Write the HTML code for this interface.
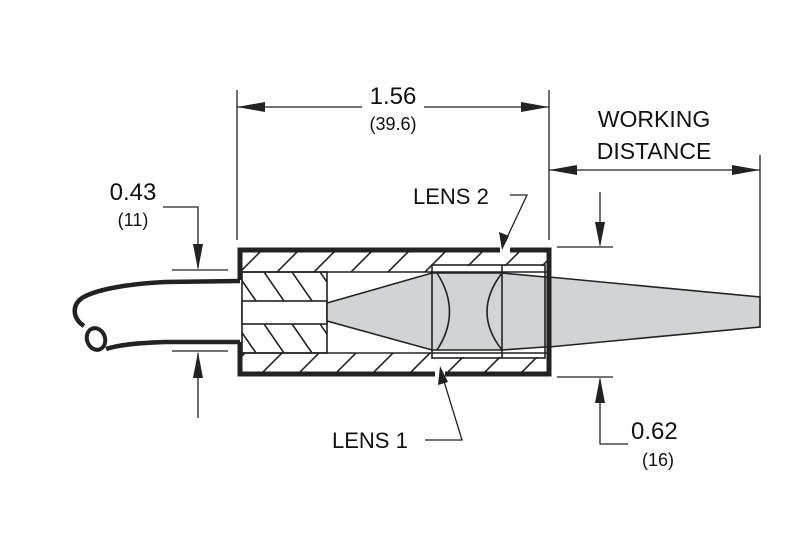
<!DOCTYPE html>
<html><head><meta charset="utf-8"><style>
html,body{margin:0;padding:0;background:#fff;}
svg{display:block;}
text{font-family:"Liberation Sans",Arial,sans-serif;fill:#111;}
</style></head><body>
<svg width="800" height="537" viewBox="0 0 800 537" xmlns="http://www.w3.org/2000/svg">
<defs>
<pattern id="t1" patternUnits="userSpaceOnUse" x="240" y="252" width="37" height="20">
<line x1="-2" y1="22" x2="22" y2="-2" stroke="#222" stroke-width="1.6"/>
<line x1="35" y1="22" x2="59" y2="-2" stroke="#222" stroke-width="1.6"/>
</pattern>
<pattern id="t2" patternUnits="userSpaceOnUse" x="225" y="353" width="37" height="20">
<line x1="-2" y1="22" x2="22" y2="-2" stroke="#222" stroke-width="1.6"/>
<line x1="35" y1="22" x2="59" y2="-2" stroke="#222" stroke-width="1.6"/>
</pattern>
<pattern id="bk" patternUnits="userSpaceOnUse" x="236" y="272" width="28" height="29">
<line x1="0" y1="0" x2="20" y2="29" stroke="#222" stroke-width="1.6"/>
</pattern>
<pattern id="bk2" patternUnits="userSpaceOnUse" x="236" y="324" width="28" height="29">
<line x1="0" y1="0" x2="20" y2="29" stroke="#222" stroke-width="1.6"/>
</pattern>
</defs>

<rect x="240" y="252" width="307" height="20" fill="url(#t1)"/>
<rect x="240" y="353" width="307" height="20" fill="url(#t2)"/>
<rect x="242" y="272" width="85" height="29" fill="url(#bk)"/>
<rect x="242" y="324" width="85" height="29" fill="url(#bk2)"/>
<rect x="433" y="266" width="112" height="91" fill="#fff"/>
<line x1="240" y1="272" x2="547" y2="272" stroke="#222" stroke-width="1.6"/>
<line x1="240" y1="353" x2="547" y2="353" stroke="#222" stroke-width="1.6"/>

<rect x="242" y="272" width="85" height="81" fill="none" stroke="#222" stroke-width="1.6"/>
<rect x="242" y="301" width="85" height="23" fill="#fff" stroke="#222" stroke-width="1.6"/>

<polygon points="327,303 432,273 502,273 545,277 549,277 760,297 760,327 549,347 545,347 502,350 432,350 327,321" fill="#d1d3d4" stroke="#222" stroke-width="1.6"/>
<rect x="432" y="265" width="113" height="93" fill="none" stroke="#222" stroke-width="1.6"/>
<line x1="502" y1="265" x2="502" y2="358" stroke="#222" stroke-width="1.6"/>
<path d="M437,273 Q462,312 437,350" fill="none" stroke="#222" stroke-width="1.6"/>
<path d="M502,273 Q472,312 502,350" fill="none" stroke="#222" stroke-width="1.6"/>

<polyline points="240,280 240,250 500,250" fill="none" stroke="#222" stroke-width="5"/>
<polyline points="510,250 549,250 549,374 445,374" fill="none" stroke="#222" stroke-width="5"/>
<polyline points="435,374 240,374 240,342" fill="none" stroke="#222" stroke-width="5"/>

<path d="M240,281 L165,282 C125,284 95,290 82,298 C72,305 72,318 84,326" fill="none" stroke="#222" stroke-width="4.5"/>
<path d="M240,342 L165,342 C135,343 118,345 106,349" fill="none" stroke="#222" stroke-width="4.5"/>
<ellipse cx="96" cy="339" rx="9" ry="11" fill="#fff" stroke="#222" stroke-width="4" transform="rotate(-20 96 339)"/>

<g stroke="#222" stroke-width="1.3" fill="#222">
<line x1="237" y1="90" x2="237" y2="240"/>
<line x1="549" y1="90" x2="549" y2="240"/>
<line x1="237" y1="107" x2="362" y2="107"/>
<line x1="424" y1="107" x2="549" y2="107"/>
<polygon points="237,107 265,102 265,112" stroke="none"/>
<polygon points="549,107 521,102 521,112" stroke="none"/>
<line x1="760" y1="155" x2="760" y2="298"/>
<line x1="549" y1="170" x2="760" y2="170"/>
<polygon points="549,170 577,165 577,175" stroke="none"/>
<polygon points="760,170 732,165 732,175" stroke="none"/>
<polyline points="163,207 198,207 198,268" fill="none"/>
<polygon points="198,270 193,244 203,244" stroke="none"/>
<line x1="172" y1="270" x2="228" y2="270"/>
<line x1="172" y1="351" x2="228" y2="351"/>
<line x1="198" y1="353" x2="198" y2="418"/>
<polygon points="198,352 193,378 203,378" stroke="none"/>
<line x1="600" y1="192" x2="600" y2="245"/>
<polygon points="600,247 595,222 605,222" stroke="none"/>
<line x1="557" y1="247" x2="613" y2="247"/>
<line x1="557" y1="377" x2="613" y2="377"/>
<polyline points="600,379 600,444 628,444" fill="none"/>
<polygon points="600,377 595,403 605,403" stroke="none"/>
<polyline points="510,195 527,195 504,244" fill="none"/>
<polygon points="502,250 499,232 509,236" stroke="none"/>
<polyline points="425,440 462,440 443,378" fill="none"/>
<polygon points="440,366 438,385 448,382" stroke="none"/>
</g>

<text x="393" y="104" font-size="24" text-anchor="middle">1.56</text>
<text x="393" y="130" font-size="18" text-anchor="middle">(39.6)</text>
<text x="654" y="127" font-size="23" text-anchor="middle">WORKING</text>
<text x="654" y="159" font-size="23" text-anchor="middle">DISTANCE</text>
<text x="133" y="200" font-size="24" text-anchor="middle">0.43</text>
<text x="133" y="226" font-size="18" text-anchor="middle">(11)</text>
<text x="413" y="204" font-size="22">LENS 2</text>
<text x="332" y="448" font-size="22">LENS 1</text>
<text x="631" y="439" font-size="24">0.62</text>
<text x="658" y="466" font-size="18" text-anchor="middle">(16)</text>
</svg>
</body></html>
